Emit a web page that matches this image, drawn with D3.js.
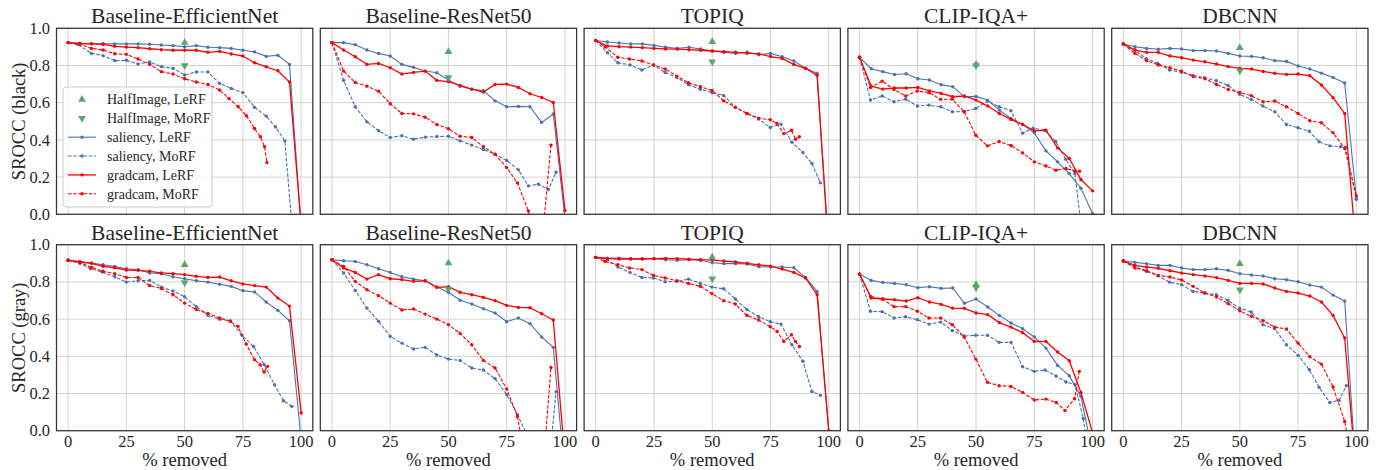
<!DOCTYPE html>
<html>
<head>
<meta charset="utf-8">
<script src="https://cdn.jsdelivr.net/npm/d3@7"></script>
<style>
body { margin: 0; background: #fff; }
#chart text { font-family: 'Liberation Serif', 'Tinos', 'DejaVu Serif', serif; fill: #262626; }
</style>
</head>
<body>
<svg id="chart" width="1379" height="470" font-family="Liberation Serif, DejaVu Serif, serif"></svg>
<script>
// Panel titles, row labels, ticks
var titles = ['Baseline-EfficientNet', 'Baseline-ResNet50', 'TOPIQ', 'CLIP-IQA+', 'DBCNN'];
var rowLabels = ['SROCC (black)', 'SROCC (gray)'];
var xTicks = [0, 25, 50, 75, 100];
var yTicks = [0, 0.2, 0.4, 0.6, 0.8, 1.0];

// % removed for the LeRF curves
var pct = [0, 5, 10, 15, 20, 25, 30, 35, 40, 45, 50, 55, 60, 65, 70, 75, 80, 85, 90, 95, 100];

// HalfImage points (at 50%)
var halfLeRF_black = [0.923, 0.874, 0.928, 0.806, 0.896];
var halfMoRF_black = [0.800, 0.736, 0.820, 0.800, 0.772];
var halfLeRF_gray = [0.892, 0.901, 0.932, 0.785, 0.898];
var halfMoRF_gray = [0.797, 0.762, 0.817, 0.770, 0.758];

/********** black fill ************/
var effB_salLe = [.923,.92,.917,.917,.916,.916,.916,.914,.91,.907,.901,.907,.898,.896,.892,.882,.873,.849,.855,.806,-.07];
var effB_gcLe = [.923,.917,.917,.914,.903,.899,.896,.89,.885,.882,.882,.882,.871,.876,.862,.851,.815,.793,.772,.711,-.06];
var effB_salMo = [[0,.923],[4,.914],[10,.865],[15,.853],[20,.826],[25,.828],[30,.808],[35,.819],[40,.794],[45,.785],[50,.749],[55,.765],[60,.765],[65,.704],[70,.677],[75,.654],[80,.575],[85,.528],[89,.47],[93,.395],[96,-.05]];
var effB_gcMo = [[0,.923],[5,.914],[10,.892],[15,.883],[20,.863],[25,.86],[30,.835],[35,.806],[40,.767],[45,.754],[50,.729],[55,.711],[60,.698],[65,.668],[69,.623],[73,.578],[76.5,.53],[80,.461],[82.5,.417],[84.3,.363],[85.3,.278]];

var resB_salLe = [.923,.923,.912,.883,.865,.851,.806,.79,.77,.761,.722,.688,.672,.665,.61,.578,.58,.578,.494,.539,-.02];
var resB_gcLe = [.923,.883,.847,.806,.811,.788,.754,.763,.77,.72,.713,.693,.673,.657,.698,.7,.682,.648,.628,.601,.02];
var resB_salMo = [[0,.923],[5,.72],[10,.578],[15,.497],[20,.449],[25,.413],[30,.422],[35,.404],[40,.415],[45,.418],[50,.42],[55,.395],[60,.372],[65,.348],[70,.323],[75,.289],[80,.239],[84.3,.153],[88.6,.162],[92.9,.133],[96.2,.226]];
var resB_gcMo = [[0,.923],[5,.77],[10,.709],[15,.689],[20,.662],[25,.594],[30,.542],[35,.54],[40,.522],[45,.483],[50,.46],[55,.42],[60,.413],[65,.363],[70,.323],[75,.251],[79.6,.169],[84.3,.018],[89,-.3],[94,.372]];

var topB_salLe = [.934,.926,.921,.916,.916,.908,.898,.892,.898,.889,.878,.871,.865,.871,.858,.865,.847,.824,.786,.758,-.2];
var topB_gcLe = [.934,.905,.901,.899,.896,.892,.889,.888,.885,.882,.878,.874,.871,.866,.862,.848,.838,.806,.785,.747,-.2];
var topB_salMo = [[0,.934],[5,.869],[9.5,.815],[14.7,.803],[19.8,.776],[24.8,.803],[29.8,.762],[34.8,.736],[39.8,.697],[44.9,.672],[49.9,.654],[54.9,.639],[59.9,.576],[64.9,.542],[69.9,.512],[74.9,.467],[79.5,.485],[84.2,.388],[88.9,.332],[92.8,.273],[96.4,.169]];
var topB_gcMo = [[0,.934],[4,.901],[9.5,.844],[14.5,.835],[19.8,.824],[24.8,.803],[29.8,.781],[34.8,.743],[39.8,.707],[44.9,.686],[49.9,.666],[54.9,.61],[59.9,.575],[64.9,.542],[69.9,.517],[74.9,.508],[77.8,.488],[80.7,.434],[84,.452],[85.7,.404],[87.4,.417]];

var clipB_salLe = [.844,.783,.767,.752,.756,.729,.722,.697,.686,.632,.634,.614,.56,.515,.483,.438,.341,.282,.219,.14,.004];
var clipB_gcLe = [.844,.689,.673,.679,.679,.682,.663,.65,.632,.636,.614,.582,.542,.51,.483,.449,.452,.357,.3,.187,.126];
var clipB_salMo = [[0,.844],[4.7,.614],[9.7,.636],[14.8,.605],[19.8,.619],[24.8,.582],[29.8,.587],[34.8,.578],[39.8,.551],[44.9,.553],[49.9,.569],[54.9,.609],[59.9,.578],[65,.557],[70,.436],[74.5,.463],[79.5,.451],[84.2,.391],[88.5,.296],[92.4,.219],[94.7,-.02]];
var clipB_gcMo = [[0,.844],[4.7,.682],[9.7,.716],[14.8,.671],[19.8,.636],[24.8,.663],[29.8,.654],[34.8,.618],[39.8,.619],[44.9,.551],[49.9,.425],[54.9,.368],[59.9,.391],[65,.37],[70,.33],[75,.282],[80,.26],[84.3,.237],[88.6,.246],[92.5,.233],[94.4,.232]];

var dbB_salLe = [.916,.901,.892,.887,.892,.889,.88,.88,.878,.865,.851,.849,.842,.826,.822,.797,.781,.759,.736,.706,.084];
var dbB_gcLe = [.916,.883,.871,.871,.851,.842,.829,.82,.808,.794,.785,.781,.768,.758,.752,.754,.745,.695,.627,.542,-.2];
var dbB_salMo = [[0,.916],[4.8,.883],[9.8,.838],[14.8,.811],[19.8,.776],[25,.763],[29.9,.747],[34.9,.734],[39.9,.718],[44.9,.693],[49.9,.645],[54.9,.618],[59.9,.582],[65,.551],[70,.483],[75,.465],[79.8,.447],[84,.39],[88.6,.368],[93.2,.363],[95.3,.361],[100,.081]];
var dbB_gcMo = [[0,.916],[5,.865],[10,.826],[15,.803],[20,.788],[25,.77],[30,.74],[35,.729],[40,.698],[45,.671],[50,.655],[55,.637],[60,.605],[65,.609],[70,.578],[75,.542],[80,.503],[85,.492],[90,.438],[95,.354],[100,.099]];

/********** gray fill ************/
var effG_salLe = [.916,.91,.901,.892,.883,.871,.866,.848,.844,.828,.817,.806,.799,.787,.776,.753,.746,.692,.647,.591,-.05];
var effG_gcLe = [.916,.907,.9,.884,.876,.864,.862,.857,.848,.844,.839,.83,.824,.826,.806,.789,.78,.772,.713,.67,.095];
var effG_salMo = [[0,.916],[5,.9],[9.6,.871],[14.6,.853],[20,.828],[25,.799],[30,.806],[35,.808],[40,.772],[45,.751],[50,.72],[55,.667],[60,.62],[65,.599],[69.6,.591],[74.6,.513],[79.6,.453],[84.1,.355],[88.6,.247],[92.4,.161],[96,.131]];
var effG_gcMo = [[0,.916],[5,.905],[10,.878],[15,.857],[20,.844],[25,.824],[30,.824],[35,.78],[40,.765],[45,.731],[50,.686],[55,.651],[60,.631],[65,.606],[69.6,.588],[72.9,.561],[76.4,.466],[80,.382],[82.4,.355],[84.1,.315],[85.6,.346]];

var resG_salLe = [.919,.914,.91,.892,.871,.851,.828,.815,.806,.772,.744,.701,.681,.656,.633,.586,.606,.575,.504,.448,-.25];
var resG_gcLe = [.919,.875,.851,.815,.839,.817,.812,.803,.806,.771,.774,.744,.731,.717,.699,.674,.663,.661,.629,.595,-.15];
var resG_salMo = [[0,.919],[5,.848],[10,.754],[15,.659],[20,.588],[25,.507],[30,.471],[35,.439],[40,.448],[45,.407],[50,.385],[55,.378],[60,.337],[65,.326],[70,.28],[75,.194],[79.6,.086],[84,-.03],[89,-.4],[93,-.2],[96.2,.21]];
var resG_gcMo = [[0,.919],[5,.883],[10,.803],[15,.758],[20,.726],[25,.686],[30,.649],[35,.654],[40,.627],[45,.6],[50,.57],[55,.523],[60,.462],[65,.378],[70,.337],[75,.224],[79.6,.077],[84.3,-.25],[90,-.3],[94,.34]];

var topG_salLe = [.932,.928,.928,.925,.925,.925,.919,.916,.919,.916,.903,.898,.898,.896,.882,.88,.88,.876,.824,.749,0];
var topG_gcLe = [.932,.925,.923,.923,.923,.925,.926,.925,.922,.919,.918,.912,.907,.9,.892,.885,.869,.851,.821,.731,0];
var topG_salMo = [[0,.932],[5,.919],[9.5,.88],[14.7,.851],[19.8,.824],[24.8,.821],[29.8,.801],[34.8,.803],[39.8,.815],[44.9,.792],[49.9,.772],[54.9,.763],[59.9,.708],[64.9,.651],[69.9,.613],[74.9,.586],[79.5,.573],[84.2,.462],[88.9,.373],[92.8,.211],[96.4,.19]];
var topG_gcMo = [[0,.932],[4,.91],[9.5,.892],[14.5,.875],[19.8,.866],[24.8,.835],[29.8,.821],[34.8,.806],[39.8,.792],[44.9,.776],[49.9,.737],[54.9,.699],[59.9,.681],[64.9,.62],[69.9,.595],[74.9,.559],[77.8,.534],[80.7,.48],[84,.516],[85.7,.48],[87.4,.453]];

var clipG_salLe = [.842,.808,.797,.792,.785,.769,.774,.765,.767,.685,.708,.665,.62,.579,.548,.504,.444,.351,.296,.185,-.12];
var clipG_gcLe = [.842,.713,.708,.704,.697,.715,.692,.679,.659,.658,.633,.624,.581,.557,.527,.48,.48,.423,.376,.206,-.01];
var clipG_salMo = [[0,.842],[4.7,.642],[9.7,.64],[14.8,.606],[19.8,.613],[24.8,.597],[29.8,.573],[34.8,.584],[39.8,.538],[44.9,.509],[49.9,.513],[54.9,.513],[59.9,.475],[65,.475],[70,.344],[75,.319],[79.6,.326],[84.3,.294],[88.6,.262],[92.5,.247],[96,.065],[98,-.1]];
var clipG_gcMo = [[0,.842],[4.7,.722],[9.7,.708],[14.8,.667],[19.8,.667],[24.8,.642],[29.8,.606],[34.8,.606],[39.8,.57],[44.9,.504],[49.9,.385],[54.9,.26],[59.9,.242],[65,.238],[70,.206],[75,.165],[80,.17],[84.4,.152],[88.2,.108],[92.3,.172],[94.3,.319]];

var dbG_salLe = [.912,.905,.898,.889,.889,.875,.866,.866,.871,.862,.844,.837,.832,.817,.812,.801,.783,.772,.729,.697,-.25];
var dbG_gcLe = [.912,.889,.88,.873,.86,.848,.839,.832,.823,.808,.792,.792,.789,.767,.749,.74,.724,.692,.62,.498,-.25];
var dbG_salMo = [[0,.912],[4.8,.884],[9.8,.857],[14.8,.833],[19.8,.799],[25,.785],[29.9,.749],[34.9,.74],[39.9,.731],[44.9,.701],[49.9,.659],[54.9,.638],[59.9,.57],[65,.548],[70,.462],[75,.405],[79.8,.328],[84,.233],[88.6,.152],[92.6,.163],[95.7,.242]];
var dbG_gcMo = [[0,.912],[5,.875],[10,.86],[15,.835],[20,.826],[25,.81],[30,.776],[35,.74],[40,.719],[45,.683],[50,.645],[55,.615],[60,.591],[65,.557],[70,.547],[75,.471],[80,.398],[85,.358],[90,.235],[95,.05],[100,-.3]];

// Group per row / column
var panels = [
    [
        {salLe: effB_salLe, salMo: effB_salMo, gcLe: effB_gcLe, gcMo: effB_gcMo},
        {salLe: resB_salLe, salMo: resB_salMo, gcLe: resB_gcLe, gcMo: resB_gcMo},
        {salLe: topB_salLe, salMo: topB_salMo, gcLe: topB_gcLe, gcMo: topB_gcMo},
        {salLe: clipB_salLe, salMo: clipB_salMo, gcLe: clipB_gcLe, gcMo: clipB_gcMo},
        {salLe: dbB_salLe, salMo: dbB_salMo, gcLe: dbB_gcLe, gcMo: dbB_gcMo}
    ],
    [
        {salLe: effG_salLe, salMo: effG_salMo, gcLe: effG_gcLe, gcMo: effG_gcMo},
        {salLe: resG_salLe, salMo: resG_salMo, gcLe: resG_gcLe, gcMo: resG_gcMo},
        {salLe: topG_salLe, salMo: topG_salMo, gcLe: topG_gcLe, gcMo: topG_gcMo},
        {salLe: clipG_salLe, salMo: clipG_salMo, gcLe: clipG_gcLe, gcMo: clipG_gcMo},
        {salLe: dbG_salLe, salMo: dbG_salMo, gcLe: dbG_gcLe, gcMo: dbG_gcMo}
    ]
];
var halfLeRF = [halfLeRF_black, halfLeRF_gray];
var halfMoRF = [halfMoRF_black, halfMoRF_gray];

// Layout
var left0 = 56.5, step = 263.8, pw = 256.3, ph = 186;
var rowTop = [28.3, 244.7];

var blue = '#4c72b0', red = '#ff0000', green = '#55a868';
var dashed = '3.6,1.6';
var serif = "'Liberation Serif', 'Tinos', 'DejaVu Serif', serif";

var svg = d3.select('#chart');

var x = d3.scaleLinear().domain([-5, 105]).range([0, pw]);
var y = d3.scaleLinear().domain([0, 1]).range([ph, 0]);

var line = d3.line()
    .x(function(d) { return x(d[0]); })
    .y(function(d) { return y(d[1]); });

var triUp = d3.symbol().type(d3.symbolTriangle).size(26);

function zipPct(vals) {
    return vals.map(function(v, i) { return [pct[i], v]; });
}

var series = [
    {key: 'salLe', color: blue, dash: null, width: 1.1, label: 'saliency, LeRF'},
    {key: 'salMo', color: blue, dash: dashed, width: 1.1, label: 'saliency, MoRF'},
    {key: 'gcLe', color: red, dash: null, width: 1.3, label: 'gradcam, LeRF'},
    {key: 'gcMo', color: red, dash: dashed, width: 1.1, label: 'gradcam, MoRF'}
];

panels.forEach(function(row, r) {
    row.forEach(function(p, c) {

        var g = svg.append('g')
            .attr('transform', 'translate(' + (left0 + c * step) + ',' + rowTop[r] + ')');

        // Grid
        g.append('g').selectAll('line')
            .data(xTicks).enter().append('line')
            .attr('x1', x).attr('x2', x)
            .attr('y1', 0).attr('y2', ph)
            .attr('stroke', '#d3d3d3').attr('stroke-width', 1);

        g.append('g').selectAll('line')
            .data(yTicks).enter().append('line')
            .attr('x1', 0).attr('x2', pw)
            .attr('y1', y).attr('y2', y)
            .attr('stroke', '#d3d3d3').attr('stroke-width', 1);

        // Clip region
        var clipId = 'clip' + r + c;
        g.append('clipPath').attr('id', clipId)
            .append('rect').attr('width', pw).attr('height', ph);

        var plot = g.append('g').attr('clip-path', 'url(#' + clipId + ')');

        series.forEach(function(s) {
            var pts = s.key.slice(-2) == 'Le' ? zipPct(p[s.key]) : p[s.key];

            plot.append('path')
                .attr('d', line(pts))
                .attr('fill', 'none')
                .attr('stroke', s.color)
                .attr('stroke-width', s.width)
                .attr('stroke-dasharray', s.dash);

            plot.append('g').selectAll('circle')
                .data(pts).enter().append('circle')
                .attr('cx', function(d) { return x(d[0]); })
                .attr('cy', function(d) { return y(d[1]); })
                .attr('r', 1.7)
                .attr('fill', s.color);
        });

        // HalfImage markers
        plot.append('path')
            .attr('d', triUp())
            .attr('transform', 'translate(' + x(50) + ',' + y(halfLeRF[r][c]) + ')')
            .attr('fill', green);

        plot.append('path')
            .attr('d', triUp())
            .attr('transform', 'translate(' + x(50) + ',' + y(halfMoRF[r][c]) + ') rotate(180)')
            .attr('fill', green);

        // Frame
        g.append('rect')
            .attr('width', pw).attr('height', ph)
            .attr('fill', 'none')
            .attr('stroke', '#333')
            .attr('stroke-width', 1.25);

        // Title
        g.append('text')
            .attr('x', pw / 2).attr('y', -5)
            .attr('text-anchor', 'middle')
            .style('font-family', serif)
            .style('font-size', '21.5px')
            .text(titles[c]);

        // Y ticks + label on first column
        if (c == 0) {
            g.append('g').selectAll('text')
                .data(yTicks).enter().append('text')
                .attr('x', -6.5)
                .attr('y', y)
                .attr('dy', '0.34em')
                .attr('text-anchor', 'end')
                .style('font-family', serif)
                .style('font-size', '16.5px')
                .text(function(d) { return d.toFixed(1); });

            g.append('text')
                .attr('transform', 'translate(' + (-38) + ',' + (ph / 2) + ') rotate(-90)')
                .attr('text-anchor', 'middle')
                .attr('dy', '0.35em')
                .style('font-family', serif)
                .style('font-size', '18.5px')
                .text(rowLabels[r]);
        }

        // X ticks + label on bottom row
        if (r == 1) {
            g.append('g').selectAll('text')
                .data(xTicks).enter().append('text')
                .attr('x', x)
                .attr('y', ph + 16.5)
                .attr('text-anchor', 'middle')
                .style('font-family', serif)
                .style('font-size', '16.5px')
                .text(function(d) { return d; });

            g.append('text')
                .attr('x', pw / 2)
                .attr('y', ph + 35)
                .attr('text-anchor', 'middle')
                .style('font-family', serif)
                .style('font-size', '18.5px')
                .text('% removed');
        }

        /********** Legend ************/
        if (r == 0 && c == 0) {
            var lg = g.append('g').attr('transform', 'translate(6.5,58.7)');

            lg.append('rect')
                .attr('width', 149).attr('height', 120)
                .attr('rx', 3)
                .attr('fill', '#fff').attr('fill-opacity', 0.8)
                .attr('stroke', '#cccccc').attr('stroke-width', 1);

            var rowY = function(i) { return 12.5 + i * 18.85; };

            lg.append('path')
                .attr('d', triUp())
                .attr('transform', 'translate(19,' + rowY(0) + ')')
                .attr('fill', green);
            lg.append('path')
                .attr('d', triUp())
                .attr('transform', 'translate(19,' + rowY(1) + ') rotate(180)')
                .attr('fill', green);

            series.forEach(function(s, i) {
                var yy = rowY(i + 2);
                lg.append('line')
                    .attr('x1', 5).attr('x2', 33)
                    .attr('y1', yy).attr('y2', yy)
                    .attr('stroke', s.color)
                    .attr('stroke-width', s.width)
                    .attr('stroke-dasharray', s.dash);
                lg.append('circle')
                    .attr('cx', 19).attr('cy', yy).attr('r', 1.7)
                    .attr('fill', s.color);
            });

            var labels = ['HalfImage, LeRF', 'HalfImage, MoRF'].concat(series.map(function(s) { return s.label; }));
            lg.selectAll('text.lab')
                .data(labels).enter().append('text')
                .attr('class', 'lab')
                .attr('x', 44)
                .attr('y', function(d, i) { return rowY(i); })
                .attr('dy', '0.35em')
                .style('font-family', serif)
                .style('font-size', '14px')
                .text(function(d) { return d; });
        }
    });
});
</script>
</body>
</html>
